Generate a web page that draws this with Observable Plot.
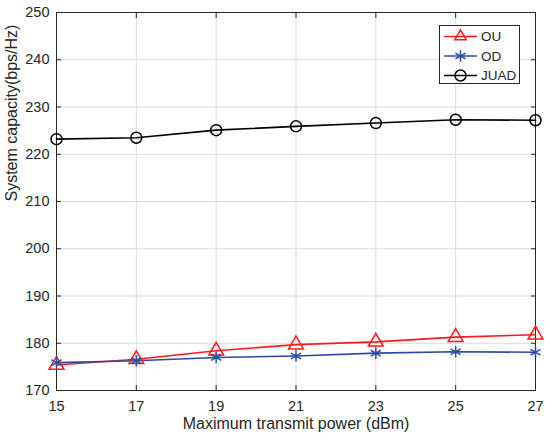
<!DOCTYPE html>
<html>
<head>
<meta charset="utf-8">
<script src="https://cdn.jsdelivr.net/npm/d3@7"></script>
<script src="https://cdn.jsdelivr.net/npm/@observablehq/plot@0.6"></script>
<style>
  html, body { margin: 0; padding: 0; background: #fff; }
  #wrap { position: relative; width: 550px; height: 443px; font-family: "Liberation Sans", Arial, sans-serif; }
</style>
</head>
<body>
<div id="wrap"></div>
<script>
const power = [15, 17, 19, 21, 23, 25, 27];
const ou   = [175.4, 176.6, 178.4, 179.7, 180.3, 181.3, 181.8];
const od   = [175.9, 176.3, 177.0, 177.3, 177.9, 178.2, 178.1];
const juad = [223.2, 223.5, 225.1, 225.9, 226.6, 227.3, 227.2];
const xTicks = [15, 17, 19, 21, 23, 25, 27];
const yTicks = [170, 180, 190, 200, 210, 220, 230, 240, 250];
const seriesNames = ["OU", "OD", "JUAD"];
const seriesColors = ["#ff1a1a", "#2a4aa8", "#000000"];
const seriesSymbols = ["triangle", "asterisk", "circle"];

const rows = [];
[ou, od, juad].forEach((vals, i) => {
  vals.forEach((v, j) => rows.push({series: seriesNames[i], x: power[j], y: v}));
});

const font = "Liberation Sans, Arial, sans-serif";
const chart = Plot.plot({
  width: 550,
  height: 443,
  marginLeft: 56,
  marginRight: 15,
  marginTop: 12,
  marginBottom: 53,
  style: {fontFamily: font, fontSize: "14.5px", color: "#262626", background: "#fff"},
  x: {domain: [15, 27], ticks: xTicks, label: null},
  y: {domain: [170, 250], ticks: yTicks, label: null},
  color: {domain: seriesNames, range: seriesColors},
  symbol: {domain: seriesNames, range: seriesSymbols},
  marks: [
    Plot.gridX(xTicks, {stroke: "#dcdcdc", strokeOpacity: 1, strokeWidth: 1}),
    Plot.gridY(yTicks, {stroke: "#dcdcdc", strokeOpacity: 1, strokeWidth: 1}),
    Plot.axisX(xTicks, {anchor: "bottom", tickSize: 0, tickPadding: 10, fontSize: 14.5, fill: "#262626", label: null}),
    Plot.axisY(yTicks, {anchor: "left", tickSize: 0, tickPadding: 7, fontSize: 14.5, fill: "#262626", label: null}),
    Plot.axisX(xTicks, {anchor: "bottom", tickSize: -5, text: null, label: null, stroke: "#262626"}),
    Plot.axisX(xTicks, {anchor: "top", tickSize: -5, text: null, label: null, stroke: "#262626"}),
    Plot.axisY(yTicks, {anchor: "left", tickSize: -5, text: null, label: null, stroke: "#262626"}),
    Plot.axisY(yTicks, {anchor: "right", tickSize: -5, text: null, label: null, stroke: "#262626"}),
    Plot.frame({stroke: "#262626", strokeWidth: 1}),
    Plot.line(rows, {x: "x", y: "y", z: "series", stroke: "series", strokeWidth: 1.6}),
    Plot.dot(rows, {x: "x", y: "y", stroke: "series", symbol: "series", fill: "none", r: 5.5, strokeWidth: 1.5}),
    Plot.text(["Maximum transmit power (dBm)"], {frameAnchor: "bottom", dy: 38, fontSize: 16, fill: "#262626"}),
    Plot.text(["System capacity(bps/Hz)"], {frameAnchor: "left", dx: -45, rotate: -90, fontSize: 16, fill: "#262626"})
  ]
});
document.getElementById("wrap").appendChild(chart);

// legend
const lw = 81, lh = 59;
const legend = d3.create("svg").attr("width", lw).attr("height", lh)
  .style("position", "absolute").style("left", "439px").style("top", "25px");
legend.append("rect").attr("x", 0.5).attr("y", 0.5).attr("width", lw - 1).attr("height", lh - 1)
  .attr("fill", "#fff").attr("stroke", "#262626");
const symMap = {triangle: d3.symbolTriangle2, asterisk: d3.symbolAsterisk, circle: d3.symbolCircle};
seriesNames.forEach((name, i) => {
  const cy = 11.5 + i * 19.5;
  const g = legend.append("g");
  g.append("line").attr("x1", 5).attr("x2", 38).attr("y1", cy).attr("y2", cy)
    .attr("stroke", seriesColors[i]).attr("stroke-width", 1.6);
  g.append("path").attr("d", d3.symbol(symMap[seriesSymbols[i]], 5.5 * 5.5 * Math.PI)())
    .attr("transform", `translate(21.5,${cy})`).attr("fill", "none")
    .attr("stroke", seriesColors[i]).attr("stroke-width", 1.5);
  g.append("text").attr("x", 42).attr("y", cy).attr("dy", "0.35em")
    .attr("font-size", 13.5).attr("font-family", font).attr("fill", "#262626").text(name);
});
document.getElementById("wrap").appendChild(legend.node());
</script>
</body>
</html>
